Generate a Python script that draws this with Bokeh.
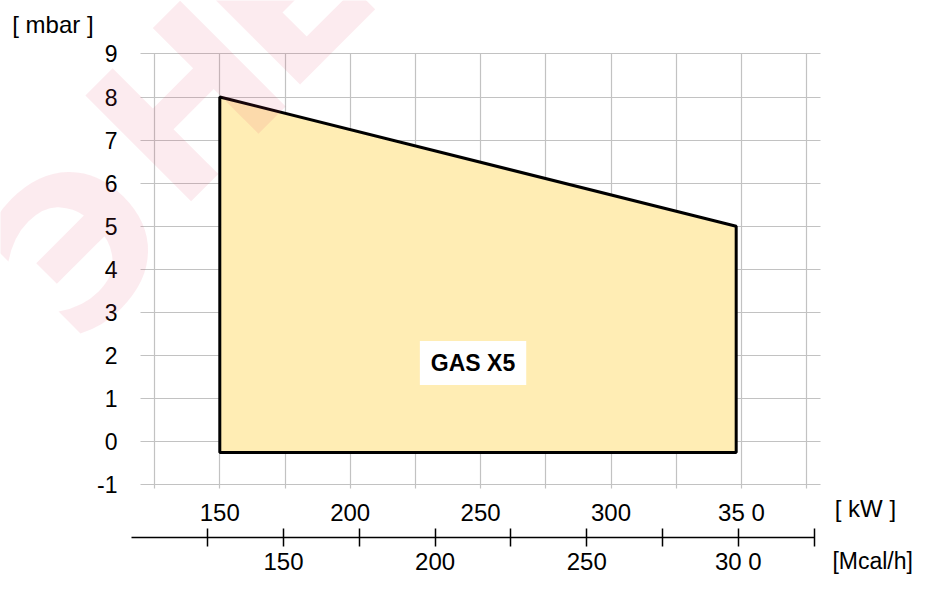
from bokeh.plotting import figure
from bokeh.models import Range1d, LinearAxis, FixedTicker, Label
from bokeh.embed import file_html
from bokeh.resources import INLINE

# ---- data ----
area_kw = [150, 150, 348, 348]
area_mbar = [-0.25, 8, 5, -0.25]
kw_grid_ticks = [125, 150, 175, 200, 225, 250, 275, 300, 325, 350, 375]
kw_label_ticks = [150, 200, 250, 300, 350]
kw_tick_labels = ["150", "200", "250", "300", "35 0"]
mbar_ticks = [-1, 0, 1, 2, 3, 4, 5, 6, 7, 8, 9]
mbar_tick_labels = ["-1", "0", "1", "2", "3", "4", "5", "6", "7", "8", "9"]
mcal_ticks = [125, 150, 175, 200, 225, 250, 275, 300, 325]
mcal_label_ticks = [150, 200, 250, 300]
mcal_tick_labels = ["150", "200", "250", "30 0"]
KW_TO_MCAL = 0.86
series_name = "GAS X5"

# watermark (decoration)
wm_letters = ["Э", "Н", "Е"]
wm_x = [76.0, 114.6, 156.4]
wm_y = [3.33, 6.44, 9.15]

FONT = "Liberation Sans"
W, H = 913, 574
PX_PER_KW = 2.608
PX_PER_MBAR = 43.1
X0 = 150 - 219.3 / PX_PER_KW
X1 = X0 + W / PX_PER_KW
Y1 = 441.3 / PX_PER_MBAR
Y0 = Y1 - H / PX_PER_MBAR

# plotting area limits
GX0, GX1 = 119.6, 380.4
GY0, GY1 = -1.086, 9.0

p = figure(width=W, height=H,
           x_range=Range1d(X0, X1), y_range=Range1d(Y0, Y1),
           output_backend="svg", toolbar_location=None,
           min_border=0, min_border_left=0, min_border_right=0,
           min_border_top=0, min_border_bottom=0)
p.outline_line_color = None
p.background_fill_color = "white"
p.border_fill_color = "white"

# grids
p.xgrid.ticker = FixedTicker(ticks=kw_grid_ticks)
p.ygrid.ticker = FixedTicker(ticks=mbar_ticks)
for g in (p.xgrid, p.ygrid):
    g.grid_line_color = "#c2c2c2"
    g.grid_line_width = 1.2
p.xgrid.bounds = (GX0, GX1)
p.ygrid.bounds = (GY0, GY1)
try:
    p.xgrid.cross_bounds = (GY0, GY1)
    p.ygrid.cross_bounds = (GX0, GX1)
except Exception:
    pass

# area
p.patch(area_kw, area_mbar, fill_color="#FFEDB4", line_color="black", line_width=3)

# kW axis
xa = p.xaxis[0]
xa.fixed_location = GY0
xa.ticker = FixedTicker(ticks=kw_label_ticks)
xa.major_label_overrides = {t: l for t, l in zip(kw_label_ticks, kw_tick_labels)}
xa.axis_line_color = None
xa.major_tick_line_color = None
xa.minor_tick_line_color = None
xa.major_tick_out = 0
xa.major_tick_in = 0
xa.major_label_standoff = 10
xa.major_label_text_font = FONT
xa.major_label_text_font_size = "24px"
xa.major_label_text_color = "black"

# mbar axis
ya = p.yaxis[0]
ya.fixed_location = GX0
ya.ticker = FixedTicker(ticks=mbar_ticks)
ya.major_label_overrides = {t: l for t, l in zip(mbar_ticks, mbar_tick_labels)}
ya.axis_line_color = None
ya.major_tick_line_color = None
ya.minor_tick_line_color = None
ya.major_tick_out = 0
ya.major_tick_in = 0
ya.major_label_standoff = 23
ya.major_label_text_font = FONT
ya.major_label_text_font_size = "23px"
ya.major_label_text_color = "black"

# Mcal/h axis
p.extra_x_ranges = {"mcal": Range1d(X0 * KW_TO_MCAL, X1 * KW_TO_MCAL)}
ma = LinearAxis(x_range_name="mcal", ticker=FixedTicker(ticks=mcal_ticks),
                fixed_location=-2.22, bounds=(100, 325))
ov = {t: "" for t in mcal_ticks}
ov.update({t: l for t, l in zip(mcal_label_ticks, mcal_tick_labels)})
ma.major_label_overrides = ov
ma.axis_line_color = "black"
ma.axis_line_width = 1.5
ma.major_tick_line_color = "black"
ma.major_tick_line_width = 1.5
ma.major_tick_in = 9
ma.major_tick_out = 9
ma.minor_tick_line_color = None
ma.major_label_standoff = 2
ma.major_label_text_font = FONT
ma.major_label_text_font_size = "24px"
ma.major_label_text_color = "black"
p.add_layout(ma, "below")

# unit labels
for txt, x, y, fs in [("[ mbar ]", 70.4, 9.676, "24px"),
                      ("[ kW ]", 385.8, -1.54, "24px"),
                      ("[Mcal/h]", 384.9, -2.777, "23px")]:
    p.add_layout(Label(x=x, y=y, text=txt, text_font=FONT, text_font_size=fs,
                       text_color="black", text_align="left", text_baseline="alphabetic"))

# series name box
try:
    name_lbl = Label(x=247.1, y=1.83, text=series_name, text_font=FONT, text_font_size="23px",
                     text_font_style="bold", text_color="black", text_align="center",
                     text_baseline="middle", background_fill_color="white",
                     padding=dict(left=11, right=11, top=9, bottom=9))
except Exception:
    name_lbl = Label(x=247.1, y=1.83, text=series_name, text_font=FONT, text_font_size="23px",
                     text_font_style="bold", text_color="black", text_align="center",
                     text_baseline="middle", background_fill_color="white")
p.add_layout(name_lbl)

# watermark
for ch, x, y in zip(wm_letters, wm_x, wm_y):
    p.add_layout(Label(x=x, y=y, text=ch, text_font="DejaVu Sans", text_font_style="bold",
                       text_font_size="205px", text_color="#E23A5E", text_alpha=0.1,
                       angle=45, angle_units="deg", text_align="left",
                       text_baseline="alphabetic"))

open("out.html", "w").write(file_html(p, INLINE))
